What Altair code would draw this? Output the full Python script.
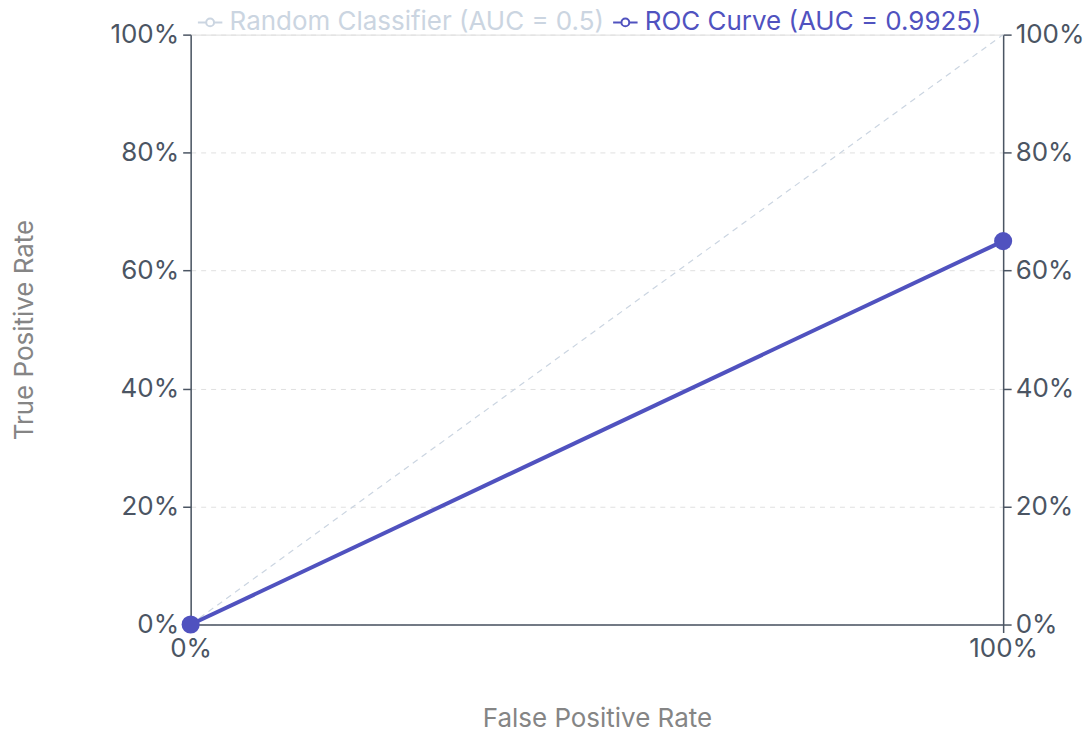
import altair as alt
import pandas as pd

series_names = ["Random Classifier (AUC = 0.5)", "ROC Curve (AUC = 0.9925)"]
series_colors = ["#cbd5e1", "#5052bf"]

fpr_random = [0.0, 1.0]
tpr_random = [0.0, 1.0]
fpr_roc = [0.0, 1.0]
tpr_roc = [0.0, 0.65]

y_ticks = [0.0, 0.2, 0.4, 0.6, 0.8, 1.0]
x_ticks = [0.0, 1.0]

rand_df = pd.DataFrame({"fpr": fpr_random, "tpr": tpr_random, "series": series_names[0]})
roc_df = pd.DataFrame({"fpr": fpr_roc, "tpr": tpr_roc, "series": series_names[1]})

FONT = "Inter"
FS = 26
AXIS_COLOR = "#4b5563"
TITLE_COLOR = "#858585"
W, H = 814, 591

x_scale = alt.Scale(domain=[0, 1], nice=False, zero=False)
y_scale = alt.Scale(domain=[0, 1], nice=False, zero=False)

color_scale = alt.Scale(domain=series_names, range=series_colors)

legend_symbol = "M-1,0L-0.32,0M0.32,0L1,0M-0.32,0A0.32,0.32,0,1,1,0.32,0A0.32,0.32,0,1,1,-0.32,0"

label_color_expr = (
    "datum.label == '" + series_names[1] + "' ? '" + series_colors[1] + "' : '" + series_colors[0] + "'"
)

legend = alt.Legend(
    title=None,
    orient="none",
    legendX=6,
    legendY=-26,
    direction="horizontal",
    symbolType=legend_symbol,
    symbolSize=600,
    symbolStrokeWidth=2,
    symbolFillColor="white",
    labelFont=FONT,
    labelFontSize=FS,
    labelLimit=0,
    labelColor={"expr": label_color_expr},
    columnPadding=4,
    labelOffset=6,
    padding=0,
)

x_axis = alt.Axis(
    values=x_ticks, format="%", title="False Positive Rate",
    grid=False, tickSize=8, tickWidth=1.5, domainWidth=1.5,
    tickColor=AXIS_COLOR, domainColor=AXIS_COLOR,
    labelColor=AXIS_COLOR, labelFont=FONT, labelFontSize=FS, labelPadding=3,
    labelFlush=False,
    titleFont=FONT, titleFontSize=FS, titleFontWeight="normal", titleColor=TITLE_COLOR,
    titleY=94, titleBaseline="middle",
)

y_axis_left = alt.Axis(
    values=y_ticks, format="%", title="True Positive Rate", orient="left",
    grid=True, gridDash=[5, 5], gridColor="#e0e0e0", gridWidth=1,
    tickSize=8, tickWidth=1.5, domainWidth=1.5,
    tickColor=AXIS_COLOR, domainColor=AXIS_COLOR,
    labelColor=AXIS_COLOR, labelFont=FONT, labelFontSize=FS, labelPadding=4,
    labelFlush=False,
    titleFont=FONT, titleFontSize=FS, titleFontWeight="normal", titleColor=TITLE_COLOR,
    titleX=-166, titleY=H / 2, titleBaseline="middle",
)

y_axis_right = alt.Axis(
    values=y_ticks, format="%", title=None, orient="right",
    grid=False, tickSize=8, tickWidth=1.5, domainWidth=1.5,
    tickColor=AXIS_COLOR, domainColor=AXIS_COLOR,
    labelColor=AXIS_COLOR, labelFont=FONT, labelFontSize=FS, labelPadding=4,
    labelFlush=False,
)

diag = alt.Chart(rand_df).mark_line(strokeWidth=1.2, strokeDash=[6, 5], clip=False).encode(
    x=alt.X("fpr:Q", scale=x_scale, axis=x_axis),
    y=alt.Y("tpr:Q", scale=y_scale, axis=y_axis_left),
    color=alt.Color("series:N", scale=color_scale, legend=legend),
)

right_axis = alt.Chart(roc_df).mark_line(opacity=0).encode(
    x=alt.X("fpr:Q", scale=x_scale, axis=x_axis),
    y=alt.Y("tpr:Q", scale=y_scale, axis=y_axis_right),
)

roc_line = alt.Chart(roc_df).mark_line(strokeWidth=4, clip=False).encode(
    x=alt.X("fpr:Q", scale=x_scale, axis=x_axis),
    y=alt.Y("tpr:Q", scale=y_scale, axis=None),
    color=alt.Color("series:N", scale=color_scale, legend=legend),
)

roc_pts = alt.Chart(roc_df).mark_circle(size=330, opacity=1, clip=False, color="#5052bf").encode(
    x=alt.X("fpr:Q", scale=x_scale, axis=x_axis),
    y=alt.Y("tpr:Q", scale=y_scale, axis=None),
)

chart = alt.layer(diag, right_axis, roc_line, roc_pts).resolve_axis(
    y="independent"
).properties(
    width=W, height=H,
    autosize=alt.AutoSizeParams(type="none"),
    padding={"left": 183, "top": 26, "right": 80, "bottom": 110},
).configure_view(stroke=None).configure(background="white")

chart.save("out.html", embed_options={"renderer": "svg", "actions": False})
